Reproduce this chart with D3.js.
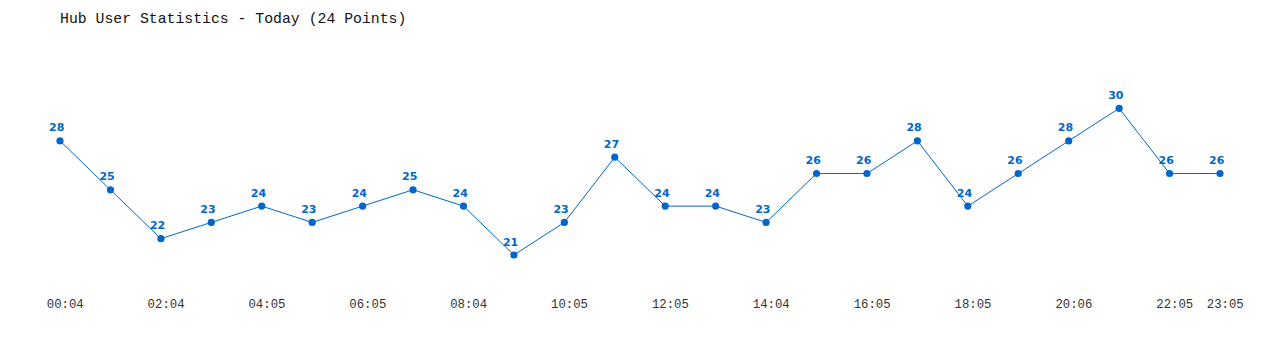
<!DOCTYPE html>
<html>
<head>
<meta charset="utf-8">
<script src="https://cdn.jsdelivr.net/npm/d3@7"></script>
<style>
  body { margin: 0; background: #fff; }
  svg { display: block; }
</style>
</head>
<body>
<div id="chart"></div>
<script>
var times = ["00:04", "01:04", "02:04", "03:05", "04:05", "05:05", "06:05", "07:04",
             "08:04", "09:05", "10:05", "11:05", "12:05", "13:04", "14:04", "15:05",
             "16:05", "17:05", "18:05", "19:06", "20:06", "21:05", "22:05", "23:05"]
var users = [28, 25, 22, 23, 24, 23, 24, 25, 24, 21, 23, 27, 24, 24, 23, 26, 26, 28, 24, 26, 28, 30, 26, 26]
var tickLabels = ["00:04", "02:04", "04:05", "06:05", "08:04", "10:05", "12:05",
                  "14:04", "16:05", "18:05", "20:06", "22:05", "23:05"]
var title = "Hub User Statistics - Today (24 Points)"

var width = 1280, height = 350
var blue = "#0066cc"

var svg = d3.select("#chart")
  .append("svg")
    .attr("width", width)
    .attr("height", height)

svg.append("text")
  .attr("x", 60)
  .attr("y", 23)
  .style("font-family", "'Liberation Mono', 'DejaVu Sans Mono', monospace")
  .style("font-size", "14.8px")
  .style("fill", "#111")
  .text(title)

var x = d3.scalePoint()
  .domain(times)
  .range([60, 1220])

var y = d3.scaleLinear()
  .domain([21, 30])
  .range([255, 108.3])

// x axis, labels only
var xAxis = svg.append("g")
  .attr("transform", "translate(0,296)")
  .call(d3.axisBottom(x).tickValues(tickLabels).tickSize(0).tickPadding(0))
xAxis.select(".domain").remove()
xAxis.selectAll("text")
  .attr("dx", 4.7)
  .attr("dy", 12)
  .style("font-family", "'Liberation Mono', 'DejaVu Sans Mono', monospace")
  .style("font-size", "12.3px")
  .style("fill", "#333")

var line = d3.line()
  .x(function(d, i) { return x(times[i]) })
  .y(function(d) { return y(d) })

svg.append("path")
  .datum(users)
  .attr("d", line)
  .attr("fill", "none")
  .attr("stroke", blue)
  .attr("stroke-width", 1)

svg.append("g")
  .selectAll("circle")
  .data(users).enter()
  .append("circle")
    .attr("cx", function(d, i) { return x(times[i]) })
    .attr("cy", function(d) { return y(d) })
    .attr("r", 3.6)
    .style("fill", blue)

svg.append("g")
  .selectAll("text")
  .data(users).enter()
  .append("text")
    .attr("x", function(d, i) { return x(times[i]) - 3.3 })
    .attr("y", function(d) { return y(d) - 9.5 })
    .attr("text-anchor", "middle")
    .style("font-family", "'DejaVu Sans', sans-serif")
    .style("font-weight", "bold")
    .style("font-size", "11px")
    .style("fill", blue)
    .text(function(d) { return d })
</script>
</body>
</html>
